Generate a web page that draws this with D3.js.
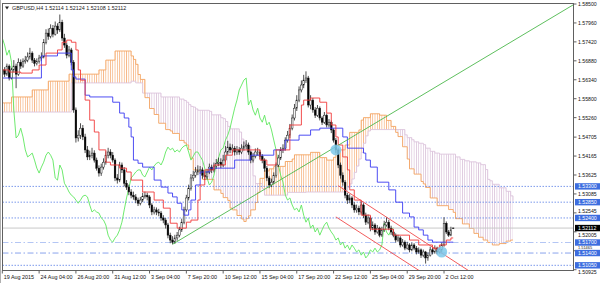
<!DOCTYPE html>
<html><head><meta charset="utf-8">
<script src="https://cdn.jsdelivr.net/npm/d3@7"></script>
<style>body{margin:0;background:#fff}svg{display:block}text{font-family:"Liberation Sans",Arial,sans-serif}</style>
</head><body><svg id="c" width="600" height="283"></svg>
<script>
const symbolTitle = "GBPUSD,H4";
const lastQuote = ["1.52114", "1.52124", "1.52108", "1.52112"];
const timeLabels = ["19 Aug 2015","24 Aug 04:00","26 Aug 20:00","31 Aug 12:00","3 Sep 04:00","7 Sep 20:00","10 Sep 12:00","15 Sep 04:00","17 Sep 20:00","22 Sep 12:00","25 Sep 04:00","29 Sep 20:00","2 Oct 12:00"];
const timeLabelBars = [0,16,32,48,64,80,96,112,128,144,160,176,192];
const priceTicks = [1.58500,1.57960,1.57420,1.56880,1.56340,1.55800,1.55260,1.54705,1.54165,1.53625,1.53085,1.52545,1.52005,1.51465,1.50925];

const opens = [1.5655,1.5662,1.5650,1.5673,1.5639,1.5662,1.5673,1.5650,1.5684,1.5673,
1.5687,1.5690,1.5699,1.5710,1.5690,1.5681,1.5687,1.5696,1.5699,1.5741,
1.5767,1.5758,1.5781,1.5764,1.5787,1.5776,1.5798,1.5753,1.5733,1.5704,
1.5719,1.5684,1.5548,1.5468,1.5476,1.5496,1.5471,1.5434,1.5414,1.5419,
1.5425,1.5405,1.5382,1.5368,1.5385,1.5399,1.5419,1.5428,1.5419,1.5405,
1.5354,1.5348,1.5391,1.5377,1.5339,1.5328,1.5314,1.5305,1.5300,1.5291,
1.5282,1.5291,1.5302,1.5305,1.5300,1.5277,1.5257,1.5263,1.5257,1.5254,
1.5240,1.5234,1.5220,1.5191,1.5177,1.5171,1.5183,1.5191,1.5206,1.5228,
1.5263,1.5297,1.5325,1.5354,1.5362,1.5371,1.5377,1.5377,1.5362,1.5357,
1.5371,1.5385,1.5377,1.5388,1.5396,1.5399,1.5391,1.5405,1.5428,1.5442,
1.5434,1.5439,1.5428,1.5434,1.5428,1.5439,1.5445,1.5448,1.5428,1.5405,
1.5416,1.5428,1.5428,1.5416,1.5405,1.5382,1.5354,1.5334,1.5342,1.5362,
1.5391,1.5411,1.5434,1.5439,1.5462,1.5476,1.5496,1.5525,1.5553,1.5576,
1.5605,1.5619,1.5633,1.5639,1.5562,1.5576,1.5548,1.5533,1.5553,1.5525,
1.5513,1.5533,1.5505,1.5513,1.5491,1.5462,1.5434,1.5391,1.5362,1.5342,
1.5305,1.5291,1.5297,1.5277,1.5263,1.5268,1.5257,1.5277,1.5248,1.5228,
1.5240,1.5211,1.5220,1.5200,1.5211,1.5191,1.5206,1.5220,1.5228,1.5211,
1.5200,1.5191,1.5177,1.5183,1.5163,1.5171,1.5154,1.5163,1.5149,1.5163,
1.5154,1.5143,1.5149,1.5134,1.5143,1.5126,1.5134,1.5149,1.5143,1.5154,
1.5143,1.5149,1.5163,1.5225,1.5200,1.5191,1.52114];
const highs = [1.5672,1.5670,1.5680,1.5678,1.5668,1.5690,1.5680,1.5695,1.5692,1.5695,
1.5702,1.5712,1.5725,1.5715,1.5696,1.5695,1.5705,1.5712,1.5750,1.5778,
1.5780,1.5792,1.5790,1.5800,1.5795,1.5820,1.5805,1.5765,1.5740,1.5730,
1.5725,1.5690,1.5555,1.5490,1.5510,1.5505,1.5480,1.5445,1.5432,1.5440,
1.5433,1.5412,1.5390,1.5395,1.5410,1.5430,1.5440,1.5436,1.5428,1.5410,
1.5365,1.5400,1.5398,1.5385,1.5348,1.5335,1.5322,1.5315,1.5308,1.5298,
1.5300,1.5312,1.5315,1.5312,1.5305,1.5282,1.5272,1.5270,1.5266,1.5260,
1.5248,1.5240,1.5226,1.5198,1.5188,1.5192,1.5200,1.5215,1.5238,1.5272,
1.5306,1.5335,1.5365,1.5375,1.5385,1.5390,1.5388,1.5384,1.5370,1.5380,
1.5395,1.5392,1.5398,1.5408,1.5412,1.5410,1.5420,1.5445,1.5460,1.5452,
1.5450,1.5445,1.5445,1.5442,1.5450,1.5458,1.5462,1.5455,1.5432,1.5425,
1.5438,1.5440,1.5435,1.5422,1.5410,1.5388,1.5360,1.5352,1.5370,1.5398,
1.5420,1.5442,1.5450,1.5470,1.5488,1.5508,1.5535,1.5565,1.5590,1.5615,
1.5632,1.5648,1.5658,1.5645,1.5590,1.5582,1.5556,1.5562,1.5558,1.5530,
1.5542,1.5538,1.5522,1.5518,1.5496,1.5468,1.5440,1.5398,1.5370,1.5348,
1.5312,1.5308,1.5302,1.5285,1.5278,1.5275,1.5288,1.5282,1.5255,1.5250,
1.5245,1.5230,1.5225,1.5220,1.5215,1.5215,1.5232,1.5242,1.5235,1.5218,
1.5208,1.5196,1.5192,1.5188,1.5180,1.5176,1.5172,1.5168,1.5170,1.5168,
1.5160,1.5156,1.5153,1.5150,1.5146,1.5142,1.5158,1.5155,1.5162,1.5158,
1.5155,1.5170,1.5242,1.5230,1.5206,1.5215,1.52124];
const lows = [1.5645,1.5642,1.5645,1.5632,1.5635,1.5655,1.5610,1.5645,1.5665,1.5668,
1.5680,1.5684,1.5692,1.5682,1.5672,1.5675,1.5680,1.5688,1.5695,1.5735,
1.5748,1.5752,1.5755,1.5760,1.5765,1.5770,1.5745,1.5725,1.5695,1.5698,
1.5675,1.5540,1.5455,1.5458,1.5465,1.5462,1.5425,1.5405,1.5405,1.5410,
1.5398,1.5375,1.5358,1.5360,1.5378,1.5392,1.5410,1.5410,1.5398,1.5345,
1.5338,1.5342,1.5368,1.5330,1.5320,1.5305,1.5296,1.5292,1.5282,1.5274,
1.5276,1.5285,1.5295,1.5290,1.5268,1.5248,1.5250,1.5248,1.5245,1.5232,
1.5225,1.5210,1.5182,1.5168,1.5165,1.5166,1.5175,1.5185,1.5200,1.5222,
1.5258,1.5290,1.5318,1.5345,1.5355,1.5362,1.5365,1.5352,1.5348,1.5350,
1.5365,1.5368,1.5370,1.5380,1.5388,1.5382,1.5385,1.5400,1.5420,1.5425,
1.5425,1.5418,1.5420,1.5420,1.5422,1.5432,1.5436,1.5420,1.5396,1.5398,
1.5410,1.5418,1.5408,1.5396,1.5372,1.5345,1.5325,1.5328,1.5336,1.5355,
1.5385,1.5405,1.5425,1.5432,1.5455,1.5468,1.5490,1.5518,1.5545,1.5570,
1.5598,1.5610,1.5625,1.5555,1.5550,1.5540,1.5525,1.5528,1.5518,1.5505,
1.5508,1.5498,1.5498,1.5482,1.5455,1.5425,1.5382,1.5352,1.5332,1.5296,
1.5280,1.5282,1.5268,1.5255,1.5255,1.5248,1.5250,1.5240,1.5220,1.5222,
1.5202,1.5205,1.5192,1.5195,1.5185,1.5186,1.5200,1.5215,1.5205,1.5192,
1.5185,1.5170,1.5172,1.5156,1.5158,1.5148,1.5150,1.5142,1.5145,1.5148,
1.5136,1.5138,1.5126,1.5128,1.5110,1.5118,1.5130,1.5136,1.5138,1.5136,
1.5138,1.5142,1.5158,1.5194,1.5186,1.5188,1.52108];
const closes = [1.5662,1.5650,1.5673,1.5639,1.5662,1.5673,1.5650,1.5684,1.5673,1.5687,
1.5690,1.5699,1.5710,1.5690,1.5681,1.5687,1.5696,1.5699,1.5741,1.5767,
1.5758,1.5781,1.5764,1.5787,1.5776,1.5798,1.5753,1.5733,1.5704,1.5719,
1.5684,1.5548,1.5468,1.5476,1.5496,1.5471,1.5434,1.5414,1.5419,1.5425,
1.5405,1.5382,1.5368,1.5385,1.5399,1.5419,1.5428,1.5419,1.5405,1.5354,
1.5348,1.5391,1.5377,1.5339,1.5328,1.5314,1.5305,1.5300,1.5291,1.5282,
1.5291,1.5302,1.5305,1.5300,1.5277,1.5257,1.5263,1.5257,1.5254,1.5240,
1.5234,1.5220,1.5191,1.5177,1.5171,1.5183,1.5191,1.5206,1.5228,1.5263,
1.5297,1.5325,1.5354,1.5362,1.5371,1.5377,1.5377,1.5362,1.5357,1.5371,
1.5385,1.5377,1.5388,1.5396,1.5399,1.5391,1.5405,1.5428,1.5442,1.5434,
1.5439,1.5428,1.5434,1.5428,1.5439,1.5445,1.5448,1.5428,1.5405,1.5416,
1.5428,1.5428,1.5416,1.5405,1.5382,1.5354,1.5334,1.5342,1.5362,1.5391,
1.5411,1.5434,1.5439,1.5462,1.5476,1.5496,1.5525,1.5553,1.5576,1.5605,
1.5619,1.5633,1.5639,1.5562,1.5576,1.5548,1.5533,1.5553,1.5525,1.5513,
1.5533,1.5505,1.5513,1.5491,1.5462,1.5434,1.5391,1.5362,1.5342,1.5305,
1.5291,1.5297,1.5277,1.5263,1.5268,1.5257,1.5277,1.5248,1.5228,1.5240,
1.5211,1.5220,1.5200,1.5211,1.5191,1.5206,1.5220,1.5228,1.5211,1.5200,
1.5191,1.5177,1.5183,1.5163,1.5171,1.5154,1.5163,1.5149,1.5163,1.5154,
1.5143,1.5149,1.5134,1.5143,1.5126,1.5134,1.5149,1.5143,1.5154,1.5143,
1.5149,1.5163,1.5225,1.5200,1.5191,1.5206,1.52112];

// Ichimoku lines as [bar, price] steps
const tenkan = [[0,1.5662],[3,1.5656],[8,1.5653],[13,1.5662],[16,1.5676],[19,1.5710],[24,1.5719],[26,1.5741],[28,1.5747],[30,1.5741],[32,1.5719],[33,1.5662],[34,1.5633],[36,1.5576],[38,1.5519],[40,1.5485],[42,1.5434],[45,1.5399],[47,1.5391],[51,1.5382],[54,1.5371],[56,1.5348],[61,1.5314],[66,1.5291],[70,1.5268],[73,1.5225],[76,1.5211],[80,1.5228],[82,1.5234],[85,1.5291],[86,1.5334],[88,1.5377],[92,1.5391],[97,1.5419],[100,1.5434],[112,1.5405],[115,1.5391],[119,1.5434],[125,1.5505],[130,1.5562],[131,1.5576],[134,1.5582],[138,1.5570],[141,1.5539],[143,1.5505],[145,1.5471],[146,1.5448],[148,1.5414],[150,1.5377],[151,1.5320],[153,1.5291],[156,1.5248],[160,1.5208],[170,1.5191],[177,1.5177],[181,1.5163],[187,1.5154],[190,1.5163],[193,1.5177],[195,1.5183],[196,1.5183]];
const kijun = [[0,1.5639],[17,1.5702],[24,1.5710],[30,1.5662],[31,1.5642],[32,1.5636],[36,1.5590],[38,1.5585],[48,1.5570],[51,1.5539],[53,1.5525],[55,1.5499],[56,1.5471],[57,1.5405],[59,1.5396],[61,1.5385],[66,1.5348],[69,1.5328],[72,1.5311],[74,1.5300],[76,1.5282],[78,1.5263],[79,1.5248],[81,1.5263],[82,1.5291],[84,1.5334],[86,1.5371],[90,1.5382],[101,1.5405],[108,1.5419],[118,1.5434],[123,1.5462],[129,1.5476],[134,1.5491],[138,1.5496],[148,1.5471],[150,1.5439],[157,1.5425],[158,1.5405],[160,1.5385],[163,1.5342],[168,1.5320],[171,1.5285],[174,1.5254],[177,1.5243],[179,1.5214],[181,1.5206],[183,1.5191],[185,1.5177],[187,1.5171],[196,1.5171]];
const spanA = [[0,1.5568],[4,1.5585],[13,1.5605],[20,1.5630],[29,1.5650],[42,1.5662],[45,1.5690],[49,1.5716],[56,1.5702],[57,1.5692],[58,1.5678],[59,1.5649],[60,1.5635],[62,1.5583],[64,1.5552],[66,1.5535],[68,1.5510],[71,1.5492],[73,1.5488],[74,1.5481],[77,1.5461],[79,1.5454],[80,1.5448],[81,1.5435],[82,1.5410],[83,1.5377],[85,1.5372],[87,1.5350],[92,1.5320],[95,1.5310],[96,1.5298],[98,1.5290],[99,1.5268],[100,1.5263],[102,1.5247],[104,1.5237],[105,1.5230],[106,1.5238],[107,1.5246],[108,1.5263],[110,1.5284],[111,1.5313],[112,1.5353],[114,1.5374],[116,1.5380],[118,1.5387],[123,1.5401],[126,1.5408],[127,1.5420],[134,1.5427],[138,1.5412],[141,1.5405],[144,1.5413],[145,1.5434],[149,1.5448],[151,1.5484],[155,1.5491],[156,1.5519],[157,1.5526],[160,1.5537],[164,1.5533],[167,1.5518],[169,1.5501],[171,1.5484],[172,1.5472],[174,1.5443],[176,1.5408],[177,1.5380],[179,1.5365],[182,1.5344],[183,1.5337],[184,1.5327],[186,1.5297],[189,1.5275],[194,1.5264],[196,1.5256],[197,1.5238],[200,1.5223],[203,1.5210],[205,1.5196],[207,1.5185],[209,1.5177],[211,1.5170],[213,1.5163],[216,1.5167],[219,1.5174],[221,1.5177],[222,1.5177]];
const spanB = [[0,1.5542],[30,1.5625],[56,1.5630],[58,1.5625],[61,1.5596],[69,1.5585],[77,1.5579],[79,1.5575],[80,1.5570],[81,1.5563],[82,1.5558],[83,1.5556],[84,1.5551],[85,1.5547],[90,1.5544],[91,1.5534],[95,1.5526],[96,1.5523],[97,1.5515],[98,1.5501],[99,1.5494],[103,1.5485],[104,1.5465],[105,1.5453],[106,1.5448],[107,1.5445],[108,1.5428],[109,1.5360],[110,1.5338],[113,1.5323],[114,1.5305],[124,1.5313],[132,1.5314],[149,1.5318],[150,1.5327],[151,1.5337],[152,1.5351],[153,1.5370],[154,1.5388],[155,1.5408],[156,1.5427],[157,1.5453],[158,1.5474],[159,1.5488],[160,1.5492],[175,1.5477],[176,1.5469],[178,1.5463],[179,1.5457],[181,1.5453],[183,1.5449],[184,1.5439],[186,1.5430],[188,1.5425],[190,1.5422],[197,1.5414],[199,1.5407],[201,1.5403],[203,1.5400],[206,1.5397],[208,1.5392],[210,1.5378],[211,1.5350],[212,1.5346],[213,1.5336],[216,1.5326],[219,1.5316],[221,1.5303],[222,1.5289]];
const chikouShift = 26;

const dottedLevels = [1.53300, 1.52850, 1.52400, 1.51050];
const dashDotLevels = [1.51700, 1.51400];
const levelLabels = ["1.53300","1.52850","1.52400","1.51700","1.51400","1.51050"];
const levelValues = [1.53300,1.52850,1.52400,1.51700,1.51400,1.51050];
const bidPrice = 1.52112;
const trendLine = [[74,1.5165],[260,1.5894]];
const channelUpper = [[146,1.5332],[205,1.5080]];
const channelLower = [[145,1.5243],[185,1.5074]];
const markers = [[145,1.5434],[191,1.5143]];

// ---------- drawing ----------
const svg = d3.select("#c");
const L = 2.5, T = 3.5, R = 573.5, B = 270.5;
const x = d3.scaleLinear().domain([0, 248.5]).range([2.3, 574]);
const y = d3.scaleLinear().domain([1.50925, 1.585]).range([269.7, 4]);
const defs = svg.append("defs");
defs.append("clipPath").attr("id","plot").append("rect").attr("x",L).attr("y",T).attr("width",R-L).attr("height",B-T);
const bw = x(1) - x(0);
function hatch(id, col){
  const p = defs.append("pattern").attr("id",id).attr("patternUnits","userSpaceOnUse")
    .attr("x", x(0)-0.4).attr("y",0).attr("width",bw).attr("height",10);
  p.append("rect").attr("x",0).attr("y",0).attr("width",0.8).attr("height",10).attr("fill",col);
}
hatch("hUp","#f7b888");
hatch("hDn","#dcc6dc");
const stepArea = (y0fn) => d3.area().x(d=>x(d[0])).y0(y0fn).y1(d=>y(d[1])).curve(d3.curveStepAfter);
defs.append("clipPath").attr("id","belowA").append("path").attr("d", stepArea(()=>B+5)(spanA));
defs.append("clipPath").attr("id","aboveA").append("path").attr("d", stepArea(()=>-5)(spanA));

const g = svg.append("g").attr("clip-path","url(#plot)");
// cloud
g.append("path").attr("d", stepArea(()=>-5)(spanB)).attr("fill","url(#hUp)").attr("clip-path","url(#belowA)");
g.append("path").attr("d", stepArea(()=>B+5)(spanB)).attr("fill","url(#hDn)").attr("clip-path","url(#aboveA)");
const stepLine = d3.line().x(d=>x(d[0])).y(d=>y(d[1])).curve(d3.curveStepAfter);
g.append("path").attr("d", stepLine(spanB)).attr("fill","none").attr("stroke","#dcc4dc").attr("stroke-width",0.9);
g.append("path").attr("d", stepLine(spanA)).attr("fill","none").attr("stroke","#f4a460").attr("stroke-width",0.9);

// level lines
g.append("line").attr("x1",L).attr("x2",R).attr("y1",y(bidPrice)).attr("y2",y(bidPrice)).attr("stroke","#c8c8c8").attr("stroke-width",1);
dottedLevels.forEach(v=>{
  g.append("line").attr("x1",L).attr("x2",R).attr("y1",y(v)).attr("y2",y(v)).attr("stroke","#5b7fe6").attr("stroke-width",0.8).attr("stroke-dasharray","1.5,1.5");
});
g.append("line").attr("x1",L).attr("x2",R).attr("y1",y(dashDotLevels[0])).attr("y2",y(dashDotLevels[0])).attr("stroke","#b4c6f4").attr("stroke-width",1.2).attr("stroke-dasharray","6,2.5,1.5,2.5");
g.append("line").attr("x1",L).attr("x2",R).attr("y1",y(dashDotLevels[1])).attr("y2",y(dashDotLevels[1])).attr("stroke","#7d98ea").attr("stroke-width",0.9).attr("stroke-dasharray","6,2.5,1.5,2.5");

// chikou
const chik = closes.map((c,i)=>[i-chikouShift,c]).filter(d=>d[0]>=0);
g.append("path").attr("d", d3.line().x(d=>x(d[0])).y(d=>y(d[1]))(chik)).attr("fill","none").attr("stroke","#5fe85f").attr("stroke-width",0.9);

// candles
const bars = closes.map((c,i)=>({i,o:opens[i],h:highs[i],l:lows[i],c}));
g.selectAll("line.w").data(bars).enter().append("line").attr("class","w")
  .attr("x1",d=>x(d.i)).attr("x2",d=>x(d.i)).attr("y1",d=>y(d.h)).attr("y2",d=>y(d.l))
  .attr("stroke","#222").attr("stroke-width",0.8);
g.selectAll("rect.b").data(bars).enter().append("rect").attr("class","b")
  .attr("x",d=>x(d.i)-0.85).attr("width",1.7)
  .attr("y",d=>y(Math.max(d.o,d.c))).attr("height",d=>Math.max(0.6, Math.abs(y(d.o)-y(d.c))))
  .attr("fill",d=>d.c>=d.o?"#f4f4f4":"#000").attr("stroke","#111").attr("stroke-width",0.45);

// tenkan / kijun
g.append("path").attr("d", stepLine(kijun)).attr("fill","none").attr("stroke","#3a3af2").attr("stroke-width",0.9);
g.append("path").attr("d", stepLine(tenkan)).attr("fill","none").attr("stroke","#f03a3a").attr("stroke-width",0.9);

// drawn objects
const pl = d3.line().x(d=>x(d[0])).y(d=>y(d[1]));
g.append("path").attr("d", pl(trendLine)).attr("stroke","#4cb84c").attr("stroke-width",0.9).attr("fill","none");
g.append("path").attr("d", pl(channelUpper)).attr("stroke","#f04a4a").attr("stroke-width",0.9).attr("fill","none");
g.append("path").attr("d", pl(channelLower)).attr("stroke","#f04a4a").attr("stroke-width",0.9).attr("fill","none");
g.selectAll("circle.m").data(markers).enter().append("circle").attr("cx",d=>x(d[0])).attr("cy",d=>y(d[1])).attr("r",5.5)
  .attr("fill","#7ec8ea").attr("opacity",0.85);

// frame
svg.append("line").attr("x1",0.5).attr("x2",0.5).attr("y1",0).attr("y2",283).attr("stroke","#b0b0b0");
svg.append("rect").attr("x",L).attr("y",T).attr("width",R-L).attr("height",B-T).attr("fill","none").attr("stroke","#606060").attr("stroke-width",1);

// title
svg.append("path").attr("d","M5,6.5 L9,6.5 L7,9.5 Z").attr("fill","#222");
svg.append("text").attr("x",12).attr("y",10).attr("font-size",5.4).attr("fill","#222")
  .text(symbolTitle + "  " + lastQuote.join(" "));

// right axis: tick labels that sit under a price box are moved clear of it
const boxYs = levelValues.concat([bidPrice]).map(v=>y(v)).sort((a,b)=>a-b);
priceTicks.forEach(v=>{
  svg.append("line").attr("x1",R).attr("x2",R+3).attr("y1",y(v)).attr("y2",y(v)).attr("stroke","#606060");
  let ty = y(v), fs = 5.2;
  const hits = boxYs.filter(b => Math.abs(b-ty) < 6.6);
  if (hits.length) {
    const by = hits[0];
    const above = boxYs.filter(b => b < by).pop();
    const below = boxYs.filter(b => b > by)[0];
    if (ty >= by) {
      if (below !== undefined && below - by < 14) { ty = (by+below)/2; fs = 3.9; }
      else ty = by + 6.7;
    } else {
      if (above !== undefined && by - above < 14) { ty = (by+above)/2; fs = 3.9; }
      else ty = by - 6.7;
    }
  }
  svg.append("text").attr("x",578).attr("y",ty+fs*0.36).attr("font-size",fs).attr("fill","#111").text(v.toFixed(5));
});
levelValues.forEach((v,i)=>{
  svg.append("rect").attr("x",575).attr("y",y(v)-3.2).attr("width",25).attr("height",6.4).attr("fill","#3d6ddf");
  svg.append("text").attr("x",578).attr("y",y(v)+1.9).attr("font-size",5.2).attr("fill","#fff").text(levelLabels[i]);
});
svg.append("rect").attr("x",575).attr("y",y(bidPrice)-3.2).attr("width",25).attr("height",6.4).attr("fill","#000");
svg.append("text").attr("x",578).attr("y",y(bidPrice)+1.9).attr("font-size",5.2).attr("fill","#fff").text(bidPrice.toFixed(5));

// bottom axis
timeLabels.forEach((t,i)=>{
  const xx = x(timeLabelBars[i]);
  svg.append("line").attr("x1",xx).attr("x2",xx).attr("y1",B).attr("y2",B+3).attr("stroke","#606060");
  svg.append("text").attr("x",xx+1.5).attr("y",278.5).attr("font-size",5.4).attr("fill","#111").text(t);
});
</script></body></html>
